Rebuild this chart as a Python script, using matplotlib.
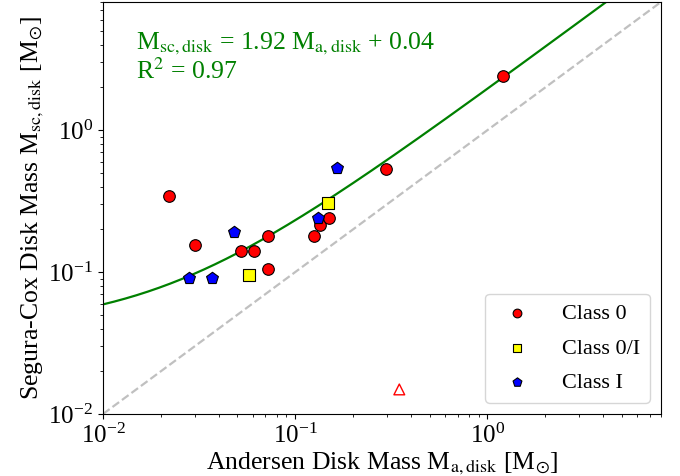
import numpy as np
import matplotlib
matplotlib.use("Agg")
import matplotlib.pyplot as plt

plt.rcParams['font.family'] = ['Liberation Serif', 'DejaVu Serif']
plt.rcParams['mathtext.fontset'] = 'stix'

# Class 0
class0_x = [0.0220, 0.0301, 0.0521, 0.0609, 0.0721, 0.0721, 0.125, 0.1345, 0.1498, 0.298, 1.204]
class0_y = [0.341, 0.155, 0.140, 0.140, 0.180, 0.105, 0.180, 0.214, 0.240, 0.532, 2.39]
# Class 0/I
class0i_x = [0.0576, 0.148]
class0i_y = [0.0951, 0.309]
# Class I
class1_x = [0.0280, 0.0370, 0.0479, 0.132, 0.164]
class1_y = [0.0905, 0.0905, 0.191, 0.242, 0.540]
# Outlier (open triangle)
outlier_x = [0.348]
outlier_y = [0.0149]

slope = 1.92
intercept = 0.04
r2 = 0.97
lims = [0.01, 8.0]

fig = plt.figure(figsize=(6.8, 4.76), dpi=100)
ax = fig.add_axes([103/680, 1-414/476, (661-103)/680, (414-2)/476])

xx = np.logspace(np.log10(lims[0]), np.log10(lims[1]), 300)
ax.plot(lims, lims, ls='--', color='silver', lw=1.6, zorder=1)
ax.plot(xx, slope*xx + intercept, color='green', lw=1.6, zorder=2)

ax.scatter(class0_x, class0_y, s=70, c='red', edgecolors='black', linewidths=0.8, marker='o', label='Class 0', zorder=3)
ax.scatter(class0i_x, class0i_y, s=70, c='yellow', edgecolors='black', linewidths=0.8, marker='s', label='Class 0/I', zorder=3)
ax.scatter(class1_x, class1_y, s=80, c='blue', edgecolors='black', linewidths=0.8, marker='p', label='Class I', zorder=3)
ax.scatter(outlier_x, outlier_y, s=60, facecolors='none', edgecolors='red', linewidths=1.0, marker='^', zorder=3)

ax.set_xscale('log')
ax.set_yscale('log')
ax.set_xlim(lims)
ax.set_ylim(lims)

ax.text(0.06, 0.93, r'M$_{\rm sc,disk}$ = %.2f M$_{\rm a,disk}$ + %.2f' % (slope, intercept) + '\n' + r'R$^2$ = %.2f' % r2,
        transform=ax.transAxes, color='green', fontsize=18.5, va='top', ha='left', linespacing=1.05)

ax.set_xlabel(r'Andersen Disk Mass M$_{\rm a,disk}$ [M$_{\odot}$]', fontsize=18.5, labelpad=2)
ax.set_ylabel(r'Segura-Cox Disk Mass M$_{\rm sc,disk}$ [M$_{\odot}$]', fontsize=18.5, labelpad=2)
ax.tick_params(labelsize=18)

ax.legend(loc='lower right', fontsize=16, markerscale=0.75, borderpad=0.45, labelspacing=0.62, handletextpad=1.0)

fig.savefig('out.png', dpi=100)
